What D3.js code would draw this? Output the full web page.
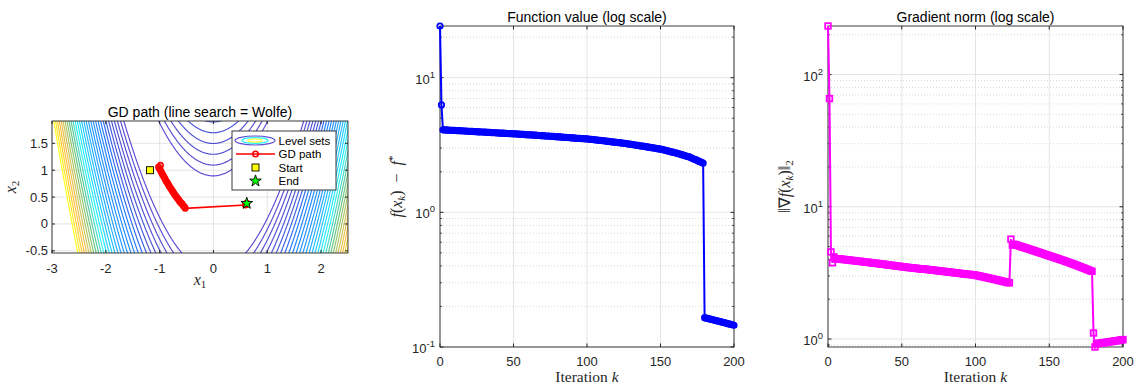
<!DOCTYPE html>
<html><head><meta charset="utf-8">
<script src="https://cdn.jsdelivr.net/npm/d3@7"></script>
<style>body{margin:0;background:#fff}svg{display:block}</style>
</head><body><svg id="c" width="1137" height="383"></svg>
<script>
// ---------------- DATA ----------------
const fVals = [24.2, 6.28,
4.10,4.09,4.09,4.08,4.08,4.07,4.07,4.06,4.06,
4.05,4.04,4.04,4.03,4.03,4.02,4.02,4.01,4.00,4.00,
3.99,3.99,3.98,3.98,3.97,3.96,3.96,3.95,3.95,3.94,
3.94,3.93,3.92,3.92,3.91,3.91,3.90,3.90,3.89,3.88,
3.88,3.87,3.87,3.86,3.86,3.85,3.84,3.84,3.83,3.83,
3.82,3.82,3.81,3.81,3.80,3.79,3.79,3.78,3.77,3.77,
3.76,3.76,3.75,3.74,3.74,3.73,3.72,3.72,3.71,3.71,
3.70,3.69,3.69,3.68,3.67,3.67,3.66,3.65,3.65,3.64,
3.63,3.63,3.62,3.61,3.61,3.60,3.59,3.59,3.58,3.57,
3.57,3.56,3.55,3.55,3.54,3.53,3.53,3.52,3.52,3.51,
3.50,3.49,3.48,3.47,3.46,3.45,3.44,3.43,3.42,3.41,
3.40,3.39,3.38,3.37,3.36,3.35,3.34,3.33,3.32,3.31,
3.30,3.29,3.28,3.27,3.26,3.25,3.23,3.22,3.21,3.20,
3.19,3.17,3.16,3.15,3.14,3.12,3.11,3.10,3.09,3.08,
3.06,3.05,3.04,3.02,3.01,3.00,2.99,2.97,2.96,2.95,
2.93,2.91,2.90,2.88,2.86,2.84,2.82,2.80,2.79,2.77,
2.75,2.73,2.71,2.69,2.67,2.65,2.63,2.61,2.59,2.57,
2.54,2.51,2.48,2.46,2.43,2.40,2.37,2.35,2.32,
0.165,0.164,0.163,0.162,0.161,0.160,0.159,0.158,0.157,0.156,0.155,
0.154,0.153,0.152,0.151,0.150,0.149,0.148,0.147,0.146,0.145];

const gVals = [232.9, 65.8, 4.56, 3.77, 4.18,
4.06,4.05,4.04,4.03,4.02,4.00,
3.99,3.98,3.97,3.96,3.94,3.93,3.92,3.91,3.90,3.88,
3.87,3.86,3.85,3.84,3.82,3.81,3.80,3.79,3.78,3.76,
3.75,3.74,3.73,3.72,3.70,3.69,3.68,3.67,3.66,3.64,
3.63,3.62,3.61,3.60,3.58,3.57,3.56,3.55,3.54,3.52,
3.51,3.50,3.49,3.48,3.47,3.46,3.45,3.44,3.43,3.42,
3.41,3.40,3.39,3.38,3.38,3.37,3.36,3.35,3.34,3.33,
3.32,3.31,3.30,3.29,3.28,3.27,3.26,3.25,3.24,3.23,
3.22,3.21,3.20,3.19,3.18,3.17,3.16,3.15,3.14,3.13,
3.12,3.11,3.10,3.09,3.08,3.08,3.07,3.06,3.05,3.04,
3.02,3.01,2.99,2.97,2.96,2.94,2.92,2.91,2.89,2.87,
2.86,2.84,2.82,2.81,2.79,2.77,2.76,2.74,2.72,2.71,
2.69,2.67,2.66,
5.69,5.13,
5.21,5.17,5.13,5.09,5.04,
5.00,4.96,4.92,4.88,4.84,4.80,4.76,4.72,4.68,4.64,
4.60,4.56,4.52,4.48,4.45,4.41,4.37,4.33,4.30,4.26,
4.22,4.19,4.15,4.12,4.08,4.05,4.01,3.98,3.94,3.91,
3.87,3.84,3.80,3.77,3.73,3.70,3.66,3.63,3.59,3.56,
3.52,3.49,3.45,3.42,3.38,3.35,3.31,3.28,3.25,
1.11,0.87,
0.92,0.925,0.93,0.93,0.935,0.94,0.94,0.945,0.95,
0.955,0.955,0.96,0.965,0.97,0.97,0.975,0.98,0.985,0.99];

const pathX = [-0.985,-1.02,-1.00,-0.98,-0.96,-0.94,-0.92,-0.90,-0.88,-0.86,-0.84,-0.82,-0.80,-0.78,-0.76,-0.74,-0.72,-0.70,-0.68,-0.66,-0.64,-0.62,-0.60,-0.58,-0.56,-0.54,-0.525,
  0.594,0.600,0.605,0.610,0.615,0.619];
const pathY = [1.09,1.06,1.02,0.99,0.95,0.91,0.876,0.84,0.80,0.77,0.74,0.70,0.67,0.64,0.61,0.58,0.55,0.52,0.49,0.47,0.44,0.41,0.39,0.37,0.34,0.32,0.29,
  0.352,0.360,0.366,0.372,0.378,0.383];
const startPt = [-1.18, 1.0];
const endPt = [0.619, 0.383];
const levelValues = [81,121,169,225,289,361,441,529,625,729,841,961,1089,1225,1369,1521,1681,1849,2025,2209,2401,2601,2809,3025,3249,3481,3721,3969,4225,4489,4761];

const xTicksLeft = [-3,-2,-1,0,1,2];
const yTicksLeft = [-0.5,0,0.5,1,1.5];
const xLimLeft = [-3, 2.5];
const yLimLeft = [-0.54, 1.915];
const iterTicks = [0,50,100,150,200];
const iterLim = [0,200];
const fAxisMin = 0.1;
const fDecades = [-1,0,1];
const gDecades = [0,1,2];
const legendLabels = ["Level sets","GD path","Start","End"];
const titles = ["GD path (line search = Wolfe)","Function value (log scale)","Gradient norm (log scale)"];

// ---------------- STYLE ----------------
const SANS = '"Liberation Sans", Arial, Helvetica, sans-serif';
const SERIF = '"Liberation Serif", "Times New Roman", serif';
const AX = '#262626', GRID = '#dedede', MINOR = '#c8c8c8';
const parulaRows = [[0.2081,0.1663,0.5292],[0.1959,0.2645,0.7279],[0.0117,0.3875,0.8820],[0.0498,0.4586,0.8641],[0.0793,0.5200,0.8312],[0.0343,0.5966,0.8199],[0.0228,0.6535,0.7768],[0.0843,0.6928,0.7062],[0.2178,0.7250,0.6193],[0.3953,0.7459,0.5244],[0.5709,0.7485,0.4494],[0.7184,0.7411,0.3905],[0.8507,0.7299,0.3360],[0.9739,0.7314,0.2666],[0.9880,0.8066,0.1794],[0.9589,0.8949,0.1132],[0.9763,0.9831,0.0538]];
const parulaPos = [0,4,8,12,16,20,24,28,32,36,40,44,48,52,56,60,63].map(r=>r/63);
const parula = d3.scaleLinear().domain(parulaPos).range(parulaRows.map(c=>d3.rgb(c[0]*255,c[1]*255,c[2]*255).toString())).clamp(true);
// thin anti-aliased look of the reference lines: lift lightness a bit
function lineColor(t){ const c=d3.hsl(parula(t)); if(c.l<0.56) c.l=0.56; c.s=Math.min(1,c.s*1.15); return c.formatRgb(); }

const svg = d3.select('#c');

function box(g, P){
  g.append('rect').attr('x',P.x0).attr('y',P.y0).attr('width',P.x1-P.x0).attr('height',P.y1-P.y0)
   .attr('fill','none').attr('stroke',AX).attr('stroke-width',0.9);
}
function sup(sel, base, exp){
  sel.append('tspan').text(base);
  sel.append('tspan').attr('dy',-6).attr('font-size',9.5).text(exp);
}

// ================= LEFT PANEL =================
const L = {x0:52, x1:348, y0:121, y1:253};
const xsL = d3.scaleLinear().domain(xLimLeft).range([L.x0, L.x1]);
const ysL = d3.scaleLinear().domain(yLimLeft).range([L.y1, L.y0]);
const gL = svg.append('g');
xTicksLeft.forEach(t=>{ gL.append('line').attr('x1',xsL(t)).attr('x2',xsL(t)).attr('y1',L.y0).attr('y2',L.y1).attr('stroke',GRID).attr('stroke-width',0.8); });
yTicksLeft.forEach(t=>{ gL.append('line').attr('x1',L.x0).attr('x2',L.x1).attr('y1',ysL(t)).attr('y2',ysL(t)).attr('stroke',GRID).attr('stroke-width',0.8); });
svg.append('defs').append('clipPath').attr('id','clipL').append('rect').attr('x',L.x0).attr('y',L.y0).attr('width',L.x1-L.x0).attr('height',L.y1-L.y0);
const h = 0.01, gx0 = -3.2, gy0 = -0.8, nx = 591, ny = 301;
const field = new Float64Array(nx*ny);
for(let j=0;j<ny;j++){ const y=gy0+j*h; for(let i=0;i<nx;i++){ const x=gx0+i*h; field[j*nx+i]=(1-x)*(1-x)+100*(y-x*x)*(y-x*x); } }
const cont = d3.contours().size([nx,ny]).thresholds(levelValues)(field);
const proj = d3.geoTransform({point(px,py){ this.stream.point(xsL(gx0+(px-0.5)*h), ysL(gy0+(py-0.5)*h)); }});
const gp = d3.geoPath(proj);
const lvMin = d3.min(levelValues), lvMax = d3.max(levelValues);
gL.append('g').attr('clip-path','url(#clipL)').selectAll('path').data(cont).join('path')
  .attr('d',gp).attr('fill','none').attr('stroke',d=>lineColor((d.value-lvMin)/(lvMax-lvMin))).attr('stroke-width',1.15);
const pts = pathX.map((x,i)=>[x,pathY[i]]);
gL.append('path').attr('d',d3.line().x(d=>xsL(d[0])).y(d=>ysL(d[1]))(pts)).attr('fill','none').attr('stroke','#ff0000').attr('stroke-width',1.6);
gL.selectAll('circle.p').data(pts).join('circle').attr('cx',d=>xsL(d[0])).attr('cy',d=>ysL(d[1])).attr('r',2.7).attr('fill','none').attr('stroke','#ff0000').attr('stroke-width',1.6);
gL.append('rect').attr('x',xsL(startPt[0])-3.5).attr('y',ysL(startPt[1])-3.5).attr('width',7).attr('height',7).attr('fill','#ffff00').attr('stroke','#000').attr('stroke-width',0.9);
gL.append('path').attr('d',d3.symbol(d3.symbolStar,42)()).attr('transform',`translate(${xsL(endPt[0])},${ysL(endPt[1])})`).attr('fill','#00ff00').attr('stroke','#000').attr('stroke-width',0.9);
box(gL,L);
xTicksLeft.forEach(t=>{ const x=xsL(t);
  gL.append('line').attr('x1',x).attr('x2',x).attr('y1',L.y1).attr('y2',L.y1-3).attr('stroke',AX);
  gL.append('line').attr('x1',x).attr('x2',x).attr('y1',L.y0).attr('y2',L.y0+3).attr('stroke',AX);
  gL.append('text').attr('x',x).attr('y',L.y1+19.5).attr('text-anchor','middle').attr('font-family',SANS).attr('font-size',13).attr('fill',AX).text(String(t));
});
yTicksLeft.forEach(t=>{ const y=ysL(t);
  gL.append('line').attr('x1',L.x0).attr('x2',L.x0+3).attr('y1',y).attr('y2',y).attr('stroke',AX);
  gL.append('line').attr('x1',L.x1).attr('x2',L.x1-3).attr('y1',y).attr('y2',y).attr('stroke',AX);
  gL.append('text').attr('x',L.x0-4).attr('y',y+4.5).attr('text-anchor','end').attr('font-family',SANS).attr('font-size',13).attr('fill',AX).text(String(t));
});
gL.append('text').attr('x',(L.x0+L.x1)/2).attr('y',116.5).attr('text-anchor','middle').attr('font-family',SANS).attr('font-size',14).attr('fill','#000').text(titles[0]);
{ const t=gL.append('text').attr('x',(L.x0+L.x1)/2).attr('y',285).attr('text-anchor','middle').attr('font-family',SERIF).attr('font-size',16).attr('fill',AX);
  t.append('tspan').attr('font-style','italic').text('x'); t.append('tspan').attr('dy',3).attr('font-size',11).text('1'); }
{ const t=gL.append('text').attr('transform',`translate(16,${(L.y0+L.y1)/2}) rotate(-90)`).attr('text-anchor','middle').attr('font-family',SERIF).attr('font-size',16).attr('fill',AX);
  t.append('tspan').attr('font-style','italic').text('x'); t.append('tspan').attr('dy',3).attr('font-size',11).text('2'); }
const lg = gL.append('g');
lg.append('rect').attr('x',232).attr('y',131).attr('width',104).attr('height',59).attr('fill','#fff').attr('stroke',AX).attr('stroke-width',0.9);
const ly = [140.5,154,167.5,181];
lg.append('ellipse').attr('cx',255).attr('cy',ly[0]).attr('rx',20).attr('ry',4.5).attr('fill','none').attr('stroke',lineColor(0)).attr('stroke-width',1.2);
lg.append('ellipse').attr('cx',255).attr('cy',ly[0]).attr('rx',13).attr('ry',2.8).attr('fill','none').attr('stroke',lineColor(0.45)).attr('stroke-width',1.2);
lg.append('ellipse').attr('cx',255).attr('cy',ly[0]).attr('rx',7).attr('ry',1.5).attr('fill','none').attr('stroke',lineColor(1)).attr('stroke-width',1.2);
lg.append('line').attr('x1',236).attr('x2',275).attr('y1',ly[1]).attr('y2',ly[1]).attr('stroke','#ff0000').attr('stroke-width',1.6);
lg.append('circle').attr('cx',255.5).attr('cy',ly[1]).attr('r',2.7).attr('fill','none').attr('stroke','#ff0000').attr('stroke-width',1.6);
lg.append('rect').attr('x',252).attr('y',ly[2]-3.5).attr('width',7).attr('height',7).attr('fill','#ffff00').attr('stroke','#000').attr('stroke-width',0.9);
lg.append('path').attr('d',d3.symbol(d3.symbolStar,42)()).attr('transform',`translate(255.5,${ly[3]})`).attr('fill','#00ff00').attr('stroke','#000').attr('stroke-width',0.9);
legendLabels.forEach((s,i)=>{ lg.append('text').attr('x',278.5).attr('y',ly[i]+4).attr('font-family',SANS).attr('font-size',11.5).attr('fill','#000').text(s); });

// ================= LOG PANELS =================
function logPanel(P, vals, yDomain, decades, color, marker, title, labelFn){
  const g = svg.append('g');
  const xs = d3.scaleLinear().domain(iterLim).range([P.x0,P.x1]);
  const ys = d3.scaleLog().domain(yDomain).range([P.y1,P.y0]);
  const minors=[];
  for(let d=Math.floor(Math.log10(yDomain[0])); d<=Math.ceil(Math.log10(yDomain[1])); d++){
    for(let m=2;m<=9;m++){ const v=m*Math.pow(10,d); if(v>yDomain[0]&&v<yDomain[1]) minors.push(v); } }
  minors.forEach(v=>{ const y=ys(v);
    g.append('line').attr('x1',P.x0).attr('x2',P.x1).attr('y1',y).attr('y2',y).attr('stroke',MINOR).attr('stroke-width',0.7).attr('stroke-dasharray','1,2');
  });
  iterTicks.forEach(t=>{ g.append('line').attr('x1',xs(t)).attr('x2',xs(t)).attr('y1',P.y0).attr('y2',P.y1).attr('stroke',GRID).attr('stroke-width',0.8); });
  decades.forEach(d=>{ const y=ys(Math.pow(10,d)); g.append('line').attr('x1',P.x0).attr('x2',P.x1).attr('y1',y).attr('y2',y).attr('stroke',GRID).attr('stroke-width',0.8); });
  box(g,P);
  minors.forEach(v=>{ const y=ys(v);
    g.append('line').attr('x1',P.x0).attr('x2',P.x0+2).attr('y1',y).attr('y2',y).attr('stroke',AX).attr('stroke-width',0.8);
    g.append('line').attr('x1',P.x1).attr('x2',P.x1-2).attr('y1',y).attr('y2',y).attr('stroke',AX).attr('stroke-width',0.8);
  });
  decades.forEach(d=>{ const y=ys(Math.pow(10,d));
    g.append('line').attr('x1',P.x0).attr('x2',P.x0+3.5).attr('y1',y).attr('y2',y).attr('stroke',AX);
    g.append('line').attr('x1',P.x1).attr('x2',P.x1-3.5).attr('y1',y).attr('y2',y).attr('stroke',AX);
    const t=g.append('text').attr('x',P.x0-5).attr('y',y+6).attr('text-anchor','end').attr('font-family',SANS).attr('font-size',13).attr('fill',AX);
    sup(t,'10',String(d));
  });
  iterTicks.forEach(t=>{ const x=xs(t);
    g.append('line').attr('x1',x).attr('x2',x).attr('y1',P.y1).attr('y2',P.y1-3.5).attr('stroke',AX);
    g.append('line').attr('x1',x).attr('x2',x).attr('y1',P.y0).attr('y2',P.y0+3.5).attr('stroke',AX);
    g.append('text').attr('x',x).attr('y',P.y1+19).attr('text-anchor','middle').attr('font-family',SANS).attr('font-size',13).attr('fill',AX).text(String(t));
  });
  const data = vals.map((v,k)=>[k,v]);
  g.append('path').attr('d',d3.line().x(d=>xs(d[0])).y(d=>ys(d[1]))(data)).attr('fill','none').attr('stroke',color).attr('stroke-width',2);
  if(marker==='o'){
    g.selectAll('circle.m').data(data).join('circle').attr('cx',d=>xs(d[0])).attr('cy',d=>ys(d[1])).attr('r',2.7).attr('fill','none').attr('stroke',color).attr('stroke-width',1.8);
  } else {
    g.selectAll('rect.m').data(data).join('rect').attr('x',d=>xs(d[0])-2.8).attr('y',d=>ys(d[1])-2.8).attr('width',5.6).attr('height',5.6).attr('fill','none').attr('stroke',color).attr('stroke-width',1.8);
  }
  g.append('text').attr('x',(P.x0+P.x1)/2).attr('y',21.5).attr('text-anchor','middle').attr('font-family',SANS).attr('font-size',14).attr('fill','#000').text(title);
  const xl=g.append('text').attr('x',(P.x0+P.x1)/2).attr('y',381.5).attr('text-anchor','middle').attr('font-family',SERIF).attr('font-size',15.5).attr('fill',AX);
  xl.append('tspan').text('Iteration '); xl.append('tspan').attr('font-style','italic').text('k');
  const yl=g.append('text').attr('transform',`translate(${P.x0-38},${(P.y0+P.y1)/2}) rotate(-90)`).attr('text-anchor','middle').attr('font-family',SERIF).attr('font-size',16).attr('fill',AX);
  labelFn(yl);
}

logPanel({x0:440,x1:734,y0:26,y1:347}, fVals, [fAxisMin, d3.max(fVals)], fDecades, '#0000ff', 'o', titles[1], t=>{
  t.append('tspan').attr('font-style','italic').text('f');
  t.append('tspan').text('(');
  t.append('tspan').attr('font-style','italic').text('x');
  t.append('tspan').attr('font-style','italic').attr('font-size',11).attr('dy',3).text('k');
  t.append('tspan').attr('dy',-3).text(')\u2002\u2212\u2002');
  t.append('tspan').attr('font-style','italic').text('f');
  t.append('tspan').attr('font-size',11).attr('dy',-6).text('*');
});
logPanel({x0:828,x1:1123,y0:26,y1:347}, gVals, d3.extent(gVals), gDecades, '#ff00ff', 's', titles[2], t=>{
  t.append('tspan').text('\u2016\u2207');
  t.append('tspan').attr('font-style','italic').text('f');
  t.append('tspan').text('(');
  t.append('tspan').attr('font-style','italic').text('x');
  t.append('tspan').attr('font-style','italic').attr('font-size',11).attr('dy',3).text('k');
  t.append('tspan').attr('dy',-3).text(')\u2016');
  t.append('tspan').attr('font-size',11).attr('dy',3).text('2');
});
</script></body></html>
